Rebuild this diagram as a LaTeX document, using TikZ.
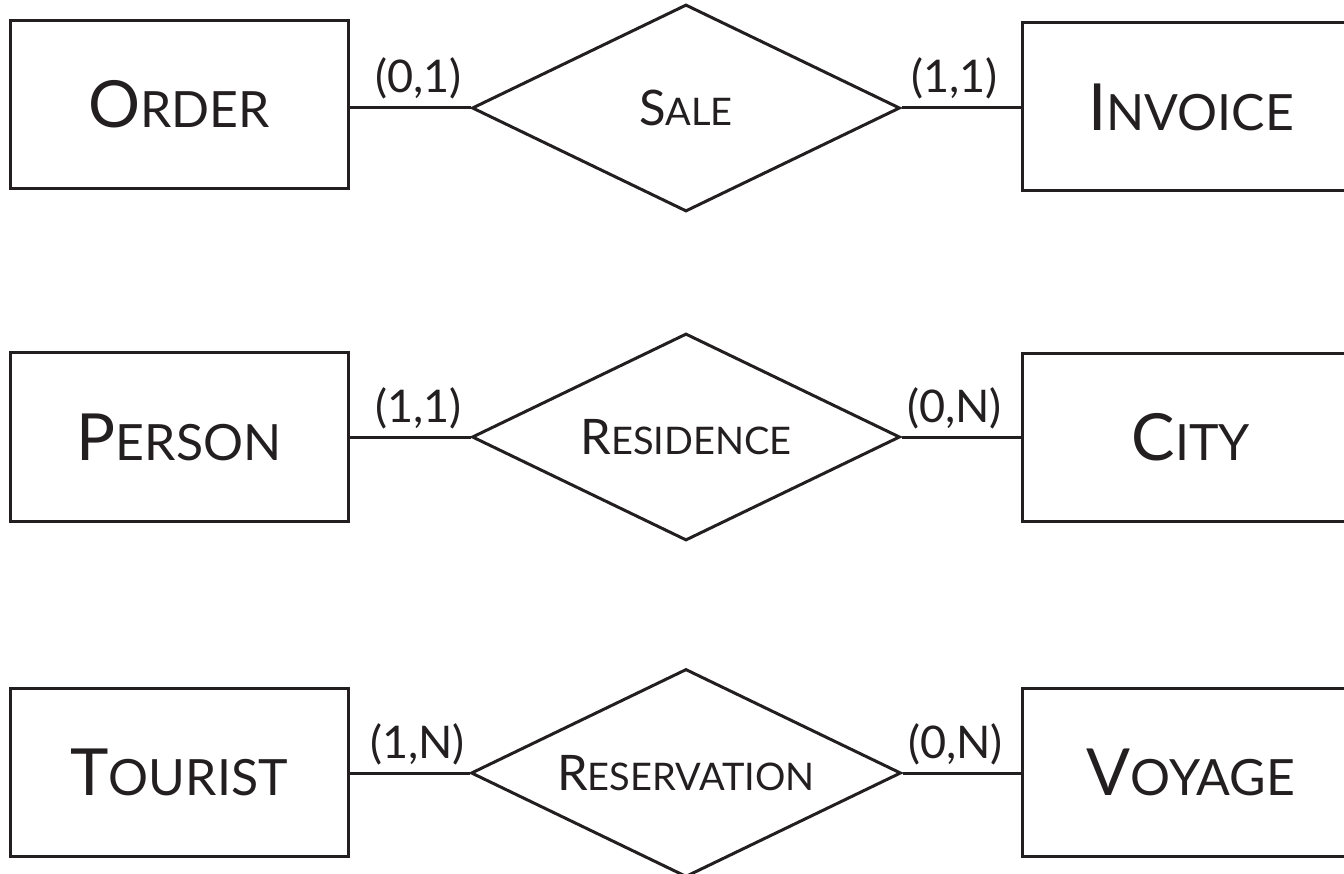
\documentclass[tikz,border=0pt]{standalone}
\usepackage{fontspec}
\setmainfont{Lato}
\usetikzlibrary{shapes.geometric,calc}
\definecolor{ink}{HTML}{231F20}
\newcommand\entname[2]{{\fontsize{65}{65}\selectfont #1}{\fontsize{50}{50}\selectfont #2}}
\newcommand\relname[2]{{\fontsize{49}{49}\selectfont #1}{\fontsize{38}{38}\selectfont #2}}
\tikzset{
  entity/.style={draw=ink, text=ink, line width=3pt, rectangle, minimum width=338pt, minimum height=168pt, inner sep=0pt},
  relation/.style={draw=ink, text=ink, line width=3pt, diamond, aspect=2.07, minimum width=428pt, minimum height=207pt, inner sep=0pt},
  conn/.style={draw=ink, line width=3pt},
  card/.style={text=ink, font=\fontsize{45}{45}\selectfont, inner sep=0pt, anchor=base}
}
\begin{document}
\begin{tikzpicture}[x=1pt,y=-1pt]
\clip (0,0) rectangle (1344,874);
\fill[white] (0,0) rectangle (1344,874);
% row 1
\node[entity] (order) at (179,104.5) {\entname{O}{RDER}};
\node[relation] (sale) at (686,108) {\relname{S}{ALE}};
\node[entity] (invoice) at (1191,107) {\entname{I}{NVOICE}};
\draw[conn] (order.east |- sale.west) -- (sale.west);
\draw[conn] (sale.east) -- (sale.east -| invoice.west);
\node[card] (c1) at ([xshift=-52pt,yshift=15pt]sale.west) {(0,1)};
\node[card] (c2) at ([xshift=53pt,yshift=15pt]sale.east) {(1,1)};
% row 2
\node[entity] (person) at (179,437) {\entname{P}{ERSON}};
\node[relation] (residence) at (686,437) {\relname{R}{ESIDENCE}};
\node[entity] (city) at (1191,437.5) {\entname{C}{ITY}};
\draw[conn] (person.east |- residence.west) -- (residence.west);
\draw[conn] (residence.east) -- (residence.east -| city.west);
\node[card] (c3) at ([xshift=-52pt,yshift=15pt]residence.west) {(1,1)};
\node[card] (c4) at ([xshift=53pt,yshift=15pt]residence.east) {(0,N)};
% row 3
\node[entity] (tourist) at (179,772.5) {\entname{T}{OURIST}};
\node[relation, minimum width=430pt, minimum height=208pt] (reservation) at (686,773) {\relname{R}{ESERVATION}};
\node[entity] (voyage) at (1191,772.5) {\entname{V}{OYAGE}};
\draw[conn] (tourist.east |- reservation.west) -- (reservation.west);
\draw[conn] (reservation.east) -- (reservation.east -| voyage.west);
\node[card] (c5) at ([xshift=-52pt,yshift=15pt]reservation.west) {(1,N)};
\node[card] (c6) at ([xshift=53pt,yshift=15pt]reservation.east) {(0,N)};
\end{tikzpicture}
\end{document}
